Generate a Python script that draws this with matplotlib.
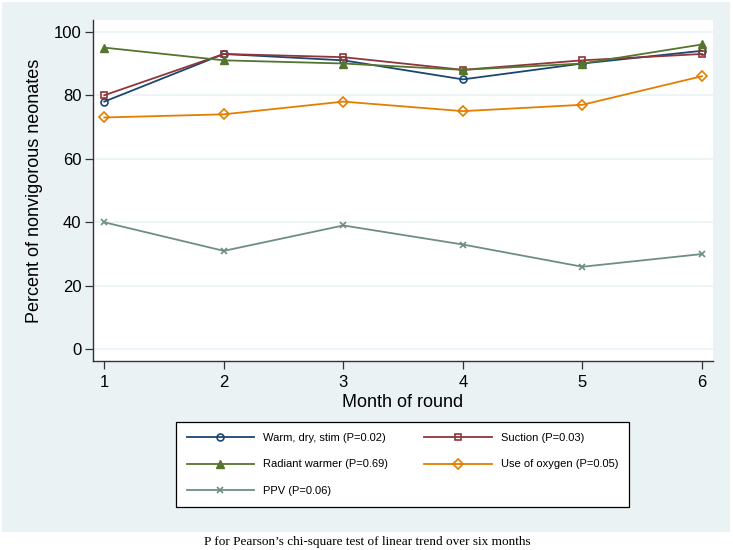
import matplotlib
matplotlib.use('Agg')
import matplotlib.pyplot as plt
from matplotlib.patches import Rectangle

# data
months = [1, 2, 3, 4, 5, 6]
warm_dry_stim = [78, 93, 91, 85, 90, 94]
suction = [80, 93, 92, 88, 91, 93]
radiant_warmer = [95, 91, 90, 88, 90, 96]
use_of_oxygen = [73, 74, 78, 75, 77, 86]
ppv = [40, 31, 39, 33, 26, 30]

labels = ['Warm, dry, stim (P=0.02)', 'Suction (P=0.03)',
          'Radiant warmer (P=0.69)', 'Use of oxygen (P=0.05)',
          'PPV (P=0.06)']
yticks = [0, 20, 40, 60, 80, 100]

plt.rcParams['font.family'] = ['Liberation Sans', 'DejaVu Sans']

bg = '#eaf2f3'
fig = plt.figure(figsize=(7.33, 5.5), dpi=100)
fig.patch.set_facecolor('white')
# stata style graph region
fig.patches.append(Rectangle((2/733, 18/550), 728/733, 530/550,
                             transform=fig.transFigure, facecolor=bg,
                             edgecolor='none', zorder=-10))

ax = fig.add_axes([92.7/733, 1 - 361/550, 620/733, 341/550])
ax.set_facecolor('white')
ax.set_zorder(1)

h1, = ax.plot(months, warm_dry_stim, color='#1a476f', lw=1.3, marker='o', ms=5,
              mfc='none', mew=1.2, label=labels[0])
h2, = ax.plot(months, suction, color='#90353b', lw=1.3, marker='s', ms=5,
              mfc='none', mew=1.2, label=labels[1])
h3, = ax.plot(months, radiant_warmer, color='#55752f', lw=1.3, marker='^', ms=6,
              label=labels[2])
h4, = ax.plot(months, use_of_oxygen, color='#e37e00', lw=1.3, marker='D', ms=5,
              mfc='none', mew=1.2, label=labels[3])
h5, = ax.plot(months, ppv, color='#6e8e84', lw=1.3, marker='x', ms=5,
              mew=1.2, label=labels[4])

ax.set_xlim(0.903, 6.09)
ax.set_ylim(-3.68, 103.7)
ax.set_xticks(months)
ax.set_yticks(yticks)
ax.grid(axis='y', color=bg, lw=1.2)
ax.set_axisbelow(True)
for s in ['top', 'right']:
    ax.spines[s].set_visible(False)
for s in ['left', 'bottom']:
    ax.spines[s].set_color('#333333')
    ax.spines[s].set_linewidth(1.0)
ax.tick_params(length=6, width=0.9, color='#333333', labelsize=12)
ax.tick_params(axis='x', pad=4)
ax.tick_params(axis='y', pad=2)

ax.set_xlabel('Month of round', fontsize=13, labelpad=3)
ax.set_ylabel('Percent of nonvigorous neonates', fontsize=13, labelpad=8)

# legend is filled column by column, so order handles to read row-wise
order = [h1, h3, h5, h2, h4]
leg = fig.legend(order, [h.get_label() for h in order],
                 loc='lower left', ncol=2, mode='expand',
                 bbox_to_anchor=(176/733, 1 - 506.7/550, 453/733, 85/550),
                 borderaxespad=0, fontsize=8, handlelength=6.1,
                 handletextpad=0.8, labelspacing=1.5, borderpad=0.95,
                 columnspacing=2.4, fancybox=False, framealpha=1)
leg.get_frame().set_edgecolor('black')
leg.get_frame().set_facecolor('white')
leg.get_frame().set_linewidth(0.9)

fig.text(367/733, 1 - 542/550,
         'P for Pearson\u2019s chi-square test of linear trend over six months',
         ha='center', va='center', fontsize=9.5, family='Liberation Serif')

fig.savefig('out.png', dpi=100, facecolor='white')
